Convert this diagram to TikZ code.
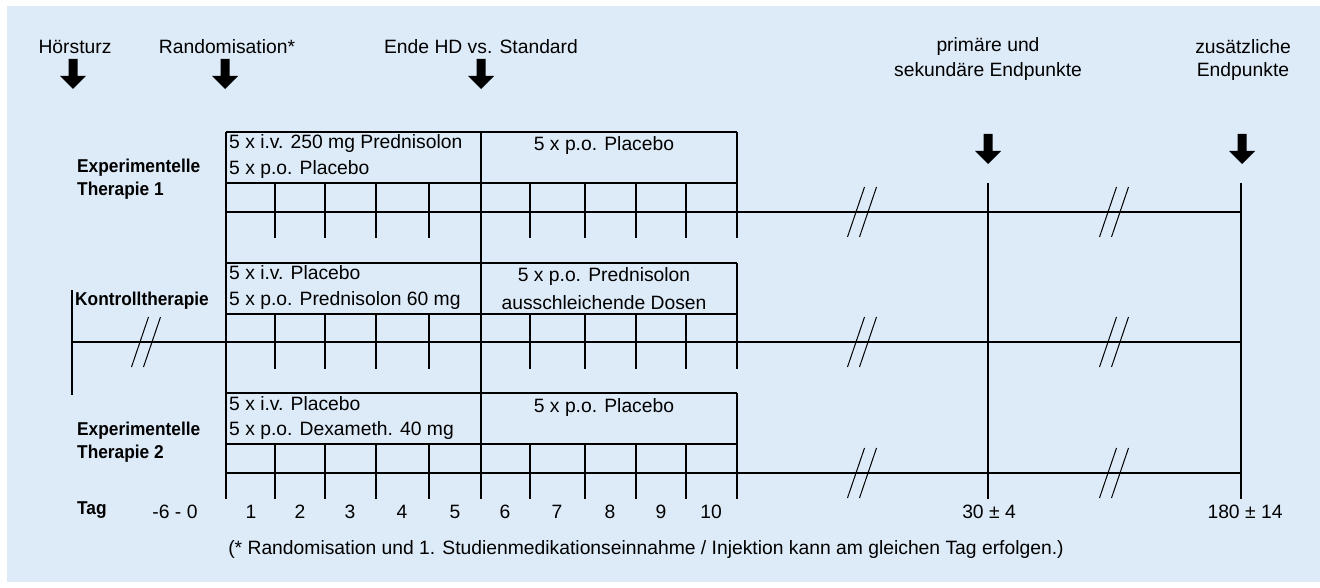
\documentclass[tikz,border=0pt]{standalone}
\usepackage{fontspec}
\setmainfont{Liberation Sans}
\newfontfamily\lblfont[FakeStretch=0.93]{Liberation Sans}
\definecolor{panel}{RGB}{221,234,247}
\tikzset{
  txt/.style={font=\fontsize{19.3}{23}\selectfont, inner sep=0pt},
  rowlbl/.style={font=\lblfont\fontsize{18.6}{22}\selectfont\bfseries, inner sep=0pt, anchor=mid west},
  ln/.style={line width=1.3pt},
  brk/.style={line width=1pt},
}
% block arrow pointing down, tip 30 units below the given coordinate
\newcommand\downarrowblock[1]{%
  \fill (#1) ++(-4.5,0) -- ++(0,17) -- ++(-8.5,0) -- ++(13,13) -- ++(13,-13)
        -- ++(-8.5,0) -- ++(0,-17) -- cycle;}
% break mark "//" centred on a coordinate
\newcommand\breakmark[1]{%
  \draw[brk] (#1) ++(-14.5,25) -- ++(17,-50);
  \draw[brk] (#1) ++(-2.5,25) -- ++(17,-50);}
\begin{document}
\begin{tikzpicture}[x=1pt,y=-1pt]
\useasboundingbox (0,0) rectangle (1320,588);
\fill[panel] (7,6) rectangle (1320,582);

% ---- milestones at the top
\node[txt] (hs)  at (75,47)  {Hörsturz};
\node[txt] (rnd) at (227,47) {Randomisation*};
\node[txt] (ende) at (481,47) {Ende HD vs. Standard};
\node[txt] (prim1) at (988,47) {primäre und};
\node[txt] (prim2) at (988,72) {sekundäre Endpunkte};
\node[txt] (zus1) at (1243,47) {zusätzliche};
\node[txt] (zus2) at (1243,72) {Endpunkte};

\coordinate (ahs) at (73,59);
\coordinate (arnd) at (225,59);
\coordinate (aende) at (481,59);
\coordinate (aprim) at (988,134);
\coordinate (azus) at (1242,134);
\downarrowblock{ahs}
\downarrowblock{arnd}
\downarrowblock{aende}
\downarrowblock{aprim}
\downarrowblock{azus}

% ---- treatment arms: box (two cells) + tick row
\foreach \t in {132,263,393}{
  \draw[ln] (226,\t) -- (737,\t);
  \draw[ln] (226,\t+51) -- (737,\t+51);
  \draw[ln] (737,\t) -- (737,\t+106);
  \foreach \x in {275,325,376,429,530,585,636,686}
    \draw[ln] (\x,\t+51) -- (\x,\t+106);
}
% continuous day borders (day 0/1 and day 5/6)
\draw[ln] (226,132) -- (226,499);
\draw[ln] (481,132) -- (481,499);

% time lines
\coordinate (t1a) at (226,212);  \coordinate (t1b) at (1241,212);
\coordinate (t2a) at (72,342);   \coordinate (t2b) at (1241,342);
\coordinate (t3a) at (226,473);  \coordinate (t3b) at (1241,473);
\draw[ln] (t1a) -- (t1b);
\draw[ln] (t2a) -- (t2b);
\draw[ln] (t3a) -- (t3b);
\draw[ln] (72,290) -- (72,395);

% endpoint verticals
\coordinate (v30a) at (988,183);  \coordinate (v30b) at (988,499);
\coordinate (v180a) at (1241,183); \coordinate (v180b) at (1241,499);
\draw[ln] (v30a) -- (v30b);
\draw[ln] (v180a) -- (v180b);

% interruptions of the time axis
\coordinate (b0) at (146,342);
\breakmark{b0}
\foreach \y in {212,342,473}{
  \coordinate (bm) at (862,\y);  \breakmark{bm}
  \coordinate (bn) at (1114,\y); \breakmark{bn}
}

% ---- arm labels
\node[rowlbl] (e1a) at (77,170) {Experimentelle};
\node[rowlbl] (e1b) at (77,193) {Therapie 1};
\node[rowlbl] (k)   at (75,303) {Kontrolltherapie};
\node[rowlbl] (e2a) at (77,433) {Experimentelle};
\node[rowlbl] (e2b) at (77,456) {Therapie 2};

% ---- medication texts
\node[txt,anchor=mid west] (m11) at (229,146) {5 x i.v. 250 mg Prednisolon};
\node[txt,anchor=mid west] (m12) at (229,172) {5 x p.o. Placebo};
\node[txt] (m13) at (604,146) {5 x p.o. Placebo};

\node[txt,anchor=mid west] (m21) at (229,277) {5 x i.v. Placebo};
\node[txt,anchor=mid west] (m22) at (229,303) {5 x p.o. Prednisolon 60 mg};
\node[txt] (m23) at (604,277) {5 x p.o. Prednisolon};
\node[txt] (m24) at (604,303) {ausschleichende Dosen};

\node[txt,anchor=mid west] (m31) at (229,408) {5 x i.v. Placebo};
\node[txt,anchor=mid west] (m32) at (229,433) {5 x p.o. Dexameth. 40 mg};
\node[txt] (m33) at (604,408) {5 x p.o. Placebo};

% ---- day axis
\node[rowlbl] (tag) at (77,512) {Tag};
\node[txt] (dpre) at (175,512) {-6 - 0};
\foreach \d/\x in {1/251,2/300,3/350,4/402,5/455,6/505,7/557,8/610,9/661,10/711}
  \node[txt] (d\d) at (\x,512) {\d};
\node[txt] (d30) at (989,512) {30 ± 4};
\node[txt] (d180) at (1245,512) {180 ± 14};

\node[txt] (fn) at (646,550) {(* Randomisation und 1. Studienmedikationseinnahme / Injektion kann am gleichen Tag erfolgen.)};
\end{tikzpicture}
\end{document}
